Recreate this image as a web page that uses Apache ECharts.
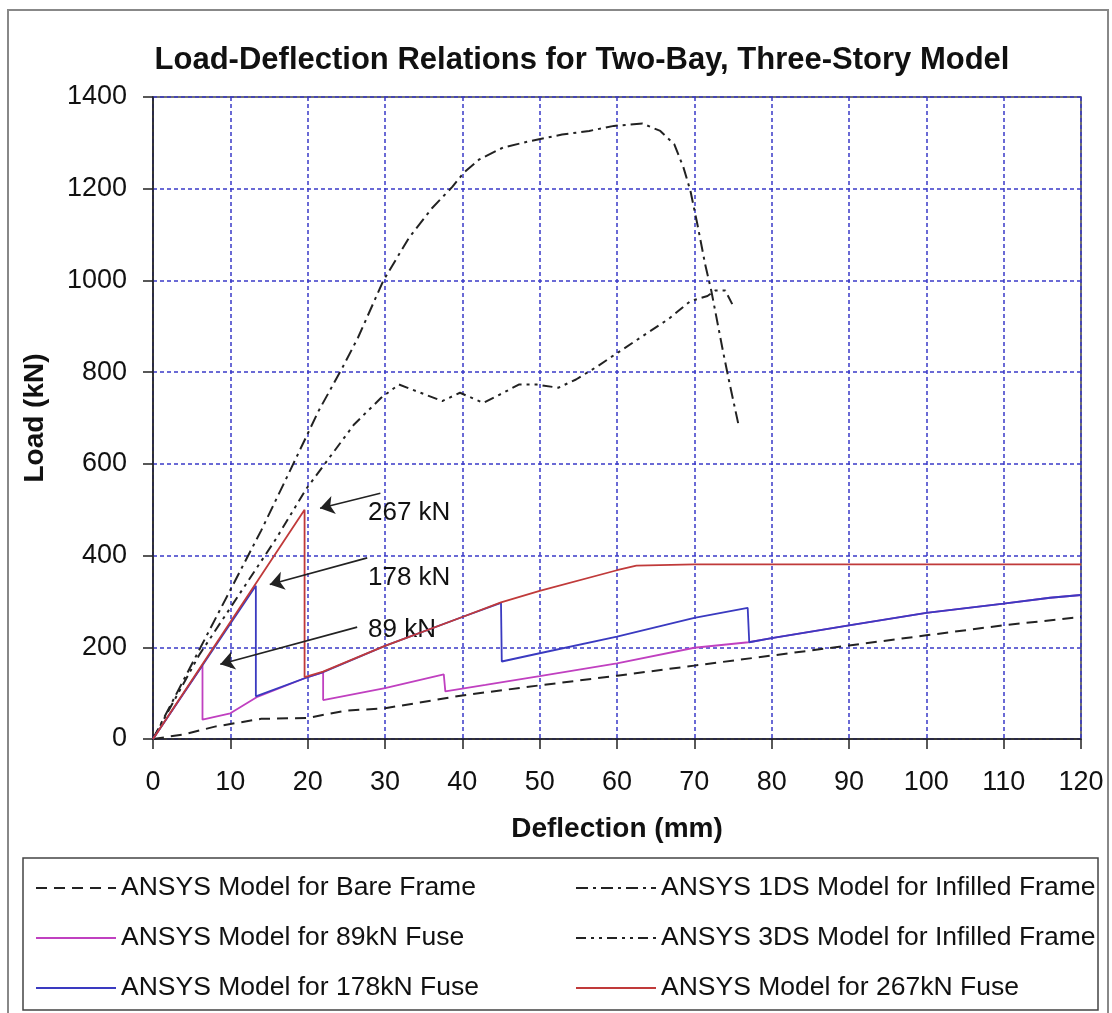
<!DOCTYPE html>
<html>
<head>
<meta charset="utf-8">
<script src="https://cdn.jsdelivr.net/npm/echarts@6/dist/echarts.min.js"></script>
<style>
  html, body { margin: 0; padding: 0; background: #fff; }
  #chart { width: 1112px; height: 1013px; }
</style>
</head>
<body>
<div id="chart"></div>
<script>
// 数据 (deflection mm, load kN)
var bareFrame = [[0,0],[4,10],[8,27],[14,44],[20,46],[25,62],[30,67],[40,95],[50,117],[60,138],[70,160],[80,182],[90,204],[100,226],[110,248],[120,266]];
var infill1DS = [[0,0],[6,195],[10,325],[14,455],[18,595],[21.4,715],[24.5,810],[26.5,875],[29.8,1000],[33.1,1093],[36.1,1158],[38.7,1204],[40.2,1235],[42.2,1264],[45.3,1290],[48.8,1304],[52.9,1318],[56.4,1326],[59.6,1337],[63.3,1342],[65.6,1326],[67.4,1297],[68.6,1246],[69.5,1195],[70.4,1122],[71.4,1035],[72.2,977],[73.7,846],[74.5,780],[75.7,686]];
var infill3DS = [[0,0],[6,184],[10,286],[16,439],[19.8,545],[22,595],[26,686],[29.5,744],[31.8,773],[34.6,755],[37.4,737],[39.7,755],[42.7,733],[45.3,755],[47.3,773],[49.6,773],[52.4,766],[54.7,784],[57.5,813],[59.7,838],[63,875],[66.6,915],[69.5,955],[71.7,966],[72.7,978],[74,978],[75,945]];
var fuse89 = [[0,0],[6.4,161],[6.4,42],[10,56],[13.4,91],[19.7,133],[22,145],[22,85],[30,111],[37.6,141],[37.8,104],[43,118],[50,137],[60,165],[70,199],[77,211],[80,220],[90,248],[100,275],[110,295],[116,308],[120,314]];
var fuse178 = [[0,0],[13.3,334],[13.3,93],[19.7,133],[22,146],[30,203],[40,266],[45,297],[45.1,169],[50,187],[60,223],[70,264],[76.9,286],[77.1,211],[80,220],[90,248],[100,275],[110,295],[116,308],[120,314]];
var fuse267 = [[0,0],[19.6,500],[19.6,135],[22,147],[30,203],[40,266],[45,298],[50,323],[60,368],[62.5,378],[70,381],[120,381]];

// 标注 (text anchor + arrow start/end)
var noteText = ['267 kN', '178 kN', '89 kN'];
var notePos = [[27.8,493],[27.8,351],[27.8,238]];
var arrowFrom = [[29.4,536],[27.7,395],[26.4,244]];
var arrowTo = [[21.6,503],[15.1,337],[8.7,163]];

var FONT = '"Liberation Sans", Arial, sans-serif';
var chart = echarts.init(document.getElementById('chart'));

var legendBase = {
  orient: 'vertical',
  top: 868,
  itemWidth: 80,
  itemHeight: 14,
  itemGap: 20,
  itemStyle: { opacity: 0, borderWidth: 0 },
  textStyle: { fontFamily: FONT, fontSize: 26.5, color: '#111', lineHeight: 30 }
};

var option = {
  backgroundColor: '#fff',
  animation: false,
  title: {
    text: 'Load-Deflection Relations for Two-Bay, Three-Story Model',
    left: 577,
    textAlign: 'center',
    top: 40,
    textStyle: { fontFamily: FONT, fontSize: 31, fontWeight: 'bold', color: '#111' }
  },
  legend: [
    Object.assign({ left: 30, data: ['ANSYS Model for Bare Frame', 'ANSYS Model for 89kN Fuse', 'ANSYS Model for 178kN Fuse'] }, legendBase),
    Object.assign({ left: 570, data: ['ANSYS 1DS Model for Infilled Frame', 'ANSYS 3DS Model for Infilled Frame', 'ANSYS Model for 267kN Fuse'] }, legendBase)
  ],
  grid: {
    left: 153, right: 31, top: 97, bottom: 274,
    show: true, borderColor: '#444', borderWidth: 1.5, backgroundColor: '#fff'
  },
  xAxis: {
    type: 'value', min: 0, max: 120, interval: 10,
    name: 'Deflection (mm)', nameLocation: 'middle', nameGap: 76,
    nameTextStyle: { fontFamily: FONT, fontSize: 28, fontWeight: 'bold', color: '#111' },
    axisLine: { lineStyle: { color: '#222', width: 1.5 } },
    axisTick: { inside: false, length: 10, lineStyle: { color: '#222', width: 1.5 } },
    axisLabel: { fontFamily: FONT, fontSize: 27, color: '#111', margin: 30 },
    splitLine: { show: true, lineStyle: { color: '#3a3ac8', type: [4, 3], width: 1.5 } }
  },
  yAxis: {
    type: 'value', min: 0, max: 1400, interval: 200,
    name: 'Load (kN)', nameLocation: 'middle', nameGap: 104,
    nameTextStyle: { fontFamily: FONT, fontSize: 28, fontWeight: 'bold', color: '#111' },
    axisLine: { show: true, lineStyle: { color: '#222', width: 1.5 } },
    axisTick: { show: true, inside: false, length: 10, lineStyle: { color: '#222', width: 1.5 } },
    axisLabel: {
      fontFamily: FONT, fontSize: 27, color: '#111', margin: 26,
      formatter: function (v) { return String(v); }
    },
    splitLine: { show: true, lineStyle: { color: '#3a3ac8', type: [4, 3], width: 1.5 } }
  },
  series: [
    {
      name: 'ANSYS Model for Bare Frame', type: 'line', data: bareFrame,
      symbol: 'none', color: '#222',
      lineStyle: { color: '#222', width: 2, type: [11, 7] }
    },
    {
      name: 'ANSYS 1DS Model for Infilled Frame', type: 'line', data: infill1DS,
      symbol: 'none', color: '#222',
      lineStyle: { color: '#222', width: 2, type: [12, 5, 3, 5] }
    },
    {
      name: 'ANSYS 3DS Model for Infilled Frame', type: 'line', data: infill3DS,
      symbol: 'none', color: '#222',
      lineStyle: { color: '#222', width: 2, type: [10, 5, 3, 5, 3, 5] }
    },
    {
      name: 'ANSYS Model for 89kN Fuse', type: 'line', data: fuse89,
      symbol: 'none', color: '#c040c0',
      lineStyle: { color: '#c040c0', width: 1.8 }
    },
    {
      name: 'ANSYS Model for 178kN Fuse', type: 'line', data: fuse178,
      symbol: 'none', color: '#3a3ac0',
      lineStyle: { color: '#3a3ac0', width: 1.8 }
    },
    {
      name: 'ANSYS Model for 267kN Fuse', type: 'line', data: fuse267,
      symbol: 'none', color: '#c03a3a',
      lineStyle: { color: '#c03a3a', width: 1.8 }
    },
    {
      name: 'notes', type: 'scatter', silent: true,
      symbolSize: 0,
      itemStyle: { opacity: 1, color: '#111' },
      data: notePos.map(function (p, i) { return { value: p, name: noteText[i] }; }),
      label: {
        show: true, position: 'right', distance: 0, opacity: 1,
        formatter: function (p) { return p.name; },
        fontFamily: FONT, fontSize: 26, color: '#111'
      }
    },
    {
      name: 'arrows', type: 'line', data: [], silent: true,
      color: '#222',
      markLine: {
        silent: true,
        symbol: ['none', 'arrow'],
        symbolSize: 14,
        label: { show: false },
        lineStyle: { color: '#222', width: 1.6, type: 'solid', opacity: 1 },
        data: arrowFrom.map(function (p, i) {
          return [
            { coord: p, symbol: 'none' },
            { coord: arrowTo[i], symbol: 'arrow', symbolSize: 14 }
          ];
        })
      }
    }
  ],
  graphic: [
    {
      type: 'rect', silent: true,
      shape: { x: 8, y: 10, width: 1100, height: 1010 },
      style: { fill: 'none', stroke: '#888', lineWidth: 2 }
    },
    {
      type: 'rect', silent: true,
      shape: { x: 23, y: 858, width: 1075, height: 152 },
      style: { fill: 'none', stroke: '#444', lineWidth: 1.5 }
    }
  ]
};

chart.setOption(option);
</script>
</body>
</html>
